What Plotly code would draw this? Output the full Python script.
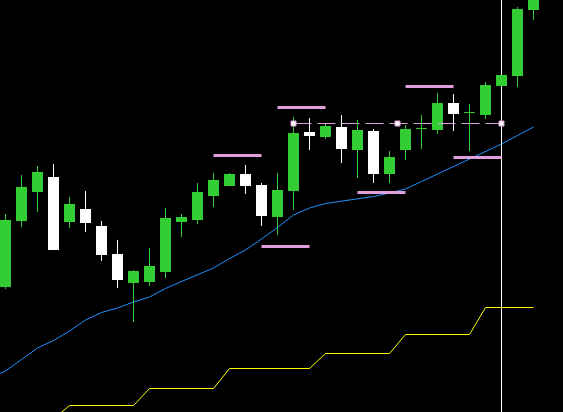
import plotly.graph_objects as go

# ---- data (price units) ----
idx = list(range(34))
opens  = [125, 191, 220, 235, 190, 203, 186, 158, 129, 130, 140, 190, 192, 216, 226, 238, 227,
          195, 221, 280, 275, 285, 262, 281, 238, 262, 283, 282, 309, 299, 297, 326, 336, 402]
highs  = [198, 237, 246, 248, 215, 221, 191, 172, 142, 164, 204, 198, 229, 239, 239, 247, 229,
          239, 295, 294, 288, 297, 292, 283, 261, 287, 297, 319, 318, 308, 330, 337, 405, 430]
lows   = [123, 185, 200, 162, 184, 180, 151, 124, 90, 126, 134, 175, 188, 205, 226, 218, 186,
          177, 202, 262, 273, 249, 234, 229, 229, 252, 263, 278, 281, 261, 293, 326, 325, 392]
closes = [192, 225, 240, 162, 208, 189, 157, 132, 141, 146, 194, 195, 220, 232, 238, 226, 196,
          222, 279, 276, 286, 263, 282, 238, 255, 283, 283, 309, 298, 299, 327, 337, 403, 425]

ma_idx = list(range(-1, 34))
ma_vals = [34, 41, 52.5, 64, 71.5, 81, 92, 99.5, 104, 110, 115, 123.5, 130.5, 137, 144, 153.5,
           162, 173, 184.5, 197, 204, 208.5, 211, 213, 215.5, 219, 223, 230.5, 238, 245, 252.5,
           260.5, 268, 276.5, 285]

step_vals = [-7, -7, -7, -7, 6.5, 6.5, 6.5, 6.5, 6.5, 23.5, 23.5, 23.5, 23.5, 23.5,
             43.5, 43.5, 43.5, 43.5, 43.5, 43.5, 58.5, 58.5, 58.5, 58.5, 58.5,
             77.5, 77.5, 77.5, 77.5, 77.5, 104.5, 104.5, 104.5, 104.5]

seg_start = [13, 17, 16, 22, 25, 28]
seg_end   = [16, 20, 19, 25, 28, 31]
seg_level = [256.5, 304.5, 165.5, 219.5, 325.5, 254.5]

trend_x = [18, 24.5, 31]
trend_level = 288.5
vline_x = 31

GREEN = "#32CD32"
WHITE = "#FFFFFF"
PLUM = "#DDA0DD"

fig = go.Figure()

# yellow step line
fig.add_trace(go.Scatter(x=idx, y=step_vals, mode="lines",
                         line=dict(color="#FFFF00", width=1), hoverinfo="skip"))
# blue moving average
fig.add_trace(go.Scatter(x=ma_idx, y=ma_vals, mode="lines",
                         line=dict(color="#1E90FF", width=1), hoverinfo="skip"))
# dashed trend line
fig.add_trace(go.Scatter(x=[trend_x[0], trend_x[-1]], y=[trend_level, trend_level], mode="lines",
                         line=dict(color=PLUM, width=1, dash="18px,6px"), hoverinfo="skip"))
# vertical line
fig.add_trace(go.Scatter(x=[vline_x, vline_x], y=[-50, 500], mode="lines",
                         line=dict(color=WHITE, width=1), hoverinfo="skip"))

# wicks
for color, cond in ((GREEN, lambda o, c: c >= o), (WHITE, lambda o, c: c < o)):
    xs, ys = [], []
    for i, o, h, l, c in zip(idx, opens, highs, lows, closes):
        if cond(o, c):
            xs += [i, i, None]
            ys += [l, h, None]
    fig.add_trace(go.Scatter(x=xs, y=ys, mode="lines", line=dict(color=color, width=1),
                             hoverinfo="skip"))

# bodies
for color, cond in ((GREEN, lambda o, c: c >= o), (WHITE, lambda o, c: c < o)):
    bx, bbase, bh = [], [], []
    for i, o, c in zip(idx, opens, closes):
        if cond(o, c):
            bx.append(i)
            bbase.append(min(o, c))
            bh.append(max(abs(c - o), 1))
    fig.add_trace(go.Bar(x=bx, y=bh, base=bbase, width=11 / 16,
                         marker=dict(color=color, line=dict(width=0)), hoverinfo="skip"))

# pink horizontal segments
sx, sy = [], []
for s, e, lv in zip(seg_start, seg_end, seg_level):
    sx += [s, e, None]
    sy += [lv, lv, None]
fig.add_trace(go.Scatter(x=sx, y=sy, mode="lines", line=dict(color=PLUM, width=3),
                         hoverinfo="skip"))

# trend line handles
fig.add_trace(go.Scatter(x=trend_x, y=[trend_level] * len(trend_x), mode="markers",
                         marker=dict(symbol="square", size=5, color=WHITE,
                                     line=dict(color=PLUM, width=1)),
                         hoverinfo="skip"))

fig.update_layout(
    width=563, height=412,
    margin=dict(l=0, r=0, t=0, b=0),
    paper_bgcolor="#000000", plot_bgcolor="#000000",
    showlegend=False, barmode="overlay", bargap=0,
    xaxis=dict(range=[-5.5 / 16, -5.5 / 16 + 563 / 16], visible=False, showgrid=False,
               zeroline=False, fixedrange=True),
    yaxis=dict(range=[0, 412], visible=False, showgrid=False, zeroline=False, fixedrange=True),
)

fig.write_html(
    "out.html",
    config={"displayModeBar": False},
    post_script="document.body.style.margin='0';document.body.style.background='#000';"
                "document.body.style.overflow='hidden';",
)
